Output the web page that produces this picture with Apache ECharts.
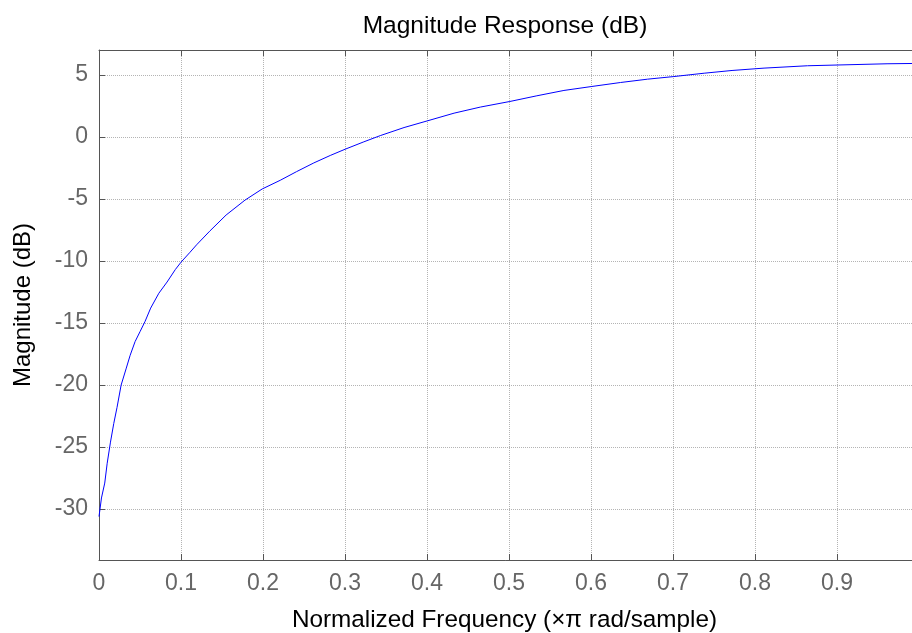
<!DOCTYPE html>
<html>
<head>
<meta charset="utf-8">
<script src="https://cdn.jsdelivr.net/npm/echarts@6/dist/echarts.min.js"></script>
<style>html,body{margin:0;padding:0;background:#fff;}#c{width:912px;height:633px;}</style>
</head>
<body>
<div id="c"></div>
<script>
const titleText = 'Magnitude Response (dB)';
const xName = 'Normalized Frequency (\u00d7\u03c0 rad/sample)';
const yName = 'Magnitude (dB)';
const freq = [0, 0.003, 0.007, 0.010, 0.014, 0.018, 0.022, 0.027, 0.033, 0.038, 0.044, 0.050, 0.056, 0.063, 0.073, 0.083, 0.093, 0.100, 0.111, 0.119, 0.135, 0.155, 0.178, 0.199, 0.221, 0.241, 0.262, 0.282, 0.300, 0.323, 0.343, 0.372, 0.401, 0.433, 0.465, 0.501, 0.534, 0.567, 0.601, 0.636, 0.669, 0.701, 0.738, 0.772, 0.811, 0.864, 0.961, 1.0];
const magDb = [-30.6, -29.1, -27.9, -26.3, -24.6, -23.1, -21.8, -20.0, -18.7, -17.6, -16.5, -15.7, -14.9, -13.8, -12.6, -11.7, -10.7, -10.1, -9.3, -8.7, -7.6, -6.3, -5.1, -4.2, -3.5, -2.8, -2.1, -1.5, -1.0, -0.4, 0.1, 0.75, 1.3, 1.91, 2.40, 2.85, 3.31, 3.74, 4.06, 4.38, 4.65, 4.86, 5.13, 5.35, 5.54, 5.73, 5.89, 5.92];
const xTicks = [0, 0.1, 0.2, 0.3, 0.4, 0.5, 0.6, 0.7, 0.8, 0.9];

const chart = echarts.init(document.getElementById('c'));
const font = 'Liberation Sans, Arial, sans-serif';
const axisColor = '#555';
chart.setOption({
  animation: false,
  title: {
    text: titleText, left: 500, top: 9, textAlign: 'center',
    textStyle: {fontFamily: font, fontSize: 24.5, fontWeight: 'normal', color: '#000'}
  },
  grid: {left: 99, top: 50, right: -7, bottom: 73, containLabel: false, outerBoundsMode: 'none'},
  xAxis: [{
    type: 'value', min: 0, max: 1, interval: 0.1, position: 'bottom',
    name: xName, nameLocation: 'middle', nameGap: 48,
    nameTextStyle: {fontFamily: font, fontSize: 24.3, color: '#000', padding: [0, 9, 0, 0]},
    axisLine: {show: true, onZero: false, lineStyle: {color: axisColor, width: 1}},
    axisTick: {show: true, inside: true, length: 6, lineStyle: {color: axisColor}},
    axisLabel: {fontFamily: font, fontSize: 23, color: '#666', margin: 12,
      formatter: v => xTicks.includes(Math.round(v*10)/10) ? String(Math.round(v*10)/10) : ''},
    splitLine: {show: true, lineStyle: {color: '#b4b4b4', type: [1, 1], width: 1}}
  }, {
    type: 'value', min: 0, max: 1, interval: 0.1, position: 'top',
    axisLine: {show: true, onZero: false, lineStyle: {color: axisColor, width: 1}},
    axisTick: {show: true, inside: true, length: 6, lineStyle: {color: axisColor}},
    axisLabel: {show: false}, splitLine: {show: false}
  }],
  yAxis: [{
    type: 'value', min: -34.1, max: 7, splitNumber: 8,
    name: yName, nameLocation: 'middle', nameGap: 64,
    nameTextStyle: {fontFamily: font, fontSize: 24, color: '#000'},
    axisLine: {show: true, onZero: false, lineStyle: {color: axisColor, width: 1}},
    axisTick: {show: true, inside: true, length: 6, lineStyle: {color: axisColor}},
    axisLabel: {fontFamily: font, fontSize: 23, color: '#666', margin: 11, showMinLabel: false, showMaxLabel: false},
    splitLine: {show: true, lineStyle: {color: '#b4b4b4', type: [1, 1], width: 1}}
  }],
  series: [{
    type: 'line', xAxisIndex: 0, yAxisIndex: 0,
    data: freq.map((f, i) => [f, magDb[i]]),
    showSymbol: false, smooth: false,
    lineStyle: {color: '#0000ff', width: 1}
  }]
});
</script>
</body>
</html>
